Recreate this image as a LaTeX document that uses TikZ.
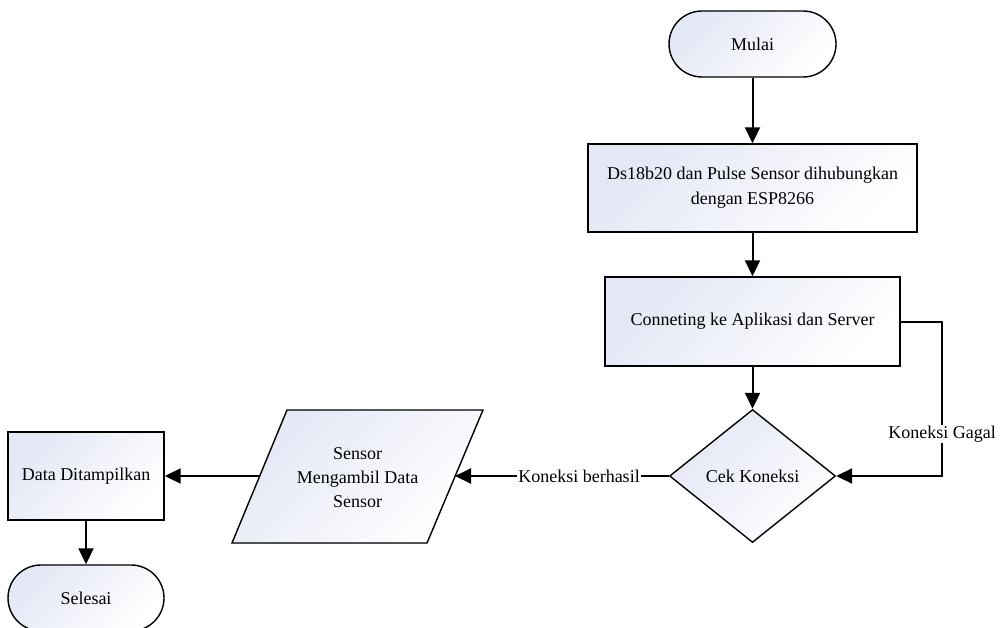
\documentclass[tikz,border=0pt]{standalone}
\usepackage{fontspec}
\setmainfont{Liberation Serif}
\usetikzlibrary{arrows.meta,shapes.geometric,calc}
\definecolor{gradc}{RGB}{228,231,245}
\tikzset{
  grad/.style={top color=gradc, bottom color=white, shading angle=45},
  procbox/.style={draw=black, line width=1.4pt, grad, inner sep=2pt, align=center, font=\fontsize{18}{25}\selectfont},
  termbox/.style={procbox, rounded corners=33pt},
  decbox/.style={draw=black, line width=1.4pt, grad, diamond, inner sep=0pt, align=center, font=\fontsize{18}{25}\selectfont},
  conn/.style={line width=2pt, -{Triangle[length=16pt,width=15pt]}},
  lbl/.style={fill=white, inner sep=1pt, font=\fontsize{18}{22}\selectfont}
}
\begin{document}
\begin{tikzpicture}[x=1pt,y=-1pt]
\useasboundingbox (0,0) rectangle (1000,628);
% nodes
\node[termbox, minimum width=167pt, minimum height=66pt] (mulai) at (752.5,44) {Mulai};
\node[procbox, minimum width=329pt, minimum height=88pt] (box1) at (752.5,188) {Ds18b20 dan Pulse Sensor dihubungkan\\dengan ESP8266};
\node[procbox, minimum width=295pt, minimum height=89pt] (box2) at (752.5,321.5) {Conneting ke Aplikasi dan Server};
\node[decbox, minimum width=166pt, minimum height=133pt, aspect=1.25] (dia) at (752.5,476) {Cek Koneksi};
% parallelogram (input/output)
\coordinate (pTL) at (287,410);
\coordinate (pTR) at (483,410);
\coordinate (pBR) at (427,543);
\coordinate (pBL) at (232,543);
\filldraw[line width=1.4pt, grad] (pTL) -- (pTR) -- (pBR) -- (pBL) -- cycle;
\node[align=center, font=\fontsize{18}{24}\selectfont] (par) at (357.5,478) {Sensor\\Mengambil Data\\Sensor};
\coordinate (parR) at (455,476);
\coordinate (parL) at (259.5,476);
\node[procbox, minimum width=156pt, minimum height=88pt] (data) at (86,476) {Data Ditampilkan};
\node[termbox, minimum width=156pt, minimum height=66pt] (selesai) at (86,598) {Selesai};
\coordinate (gx) at (942,0);
% connectors
\draw[conn] (mulai.south) -- (box1.north);
\draw[conn] (box1.south) -- (box2.north);
\draw[conn] (box2.south) -- (dia.north);
\draw[conn] (box2.east) -- (box2.east -| gx) -- (gx |- dia.east) -- (dia.east);
\node[lbl] (gagal) at (942,434) {Koneksi Gagal};
\draw[conn] (dia.west) -- node[lbl, pos=0.42] (berhasil) {Koneksi berhasil} (parR);
\draw[conn] (parL) -- (data.east);
\draw[conn] (data.south) -- (selesai.north);
\end{tikzpicture}
\end{document}
